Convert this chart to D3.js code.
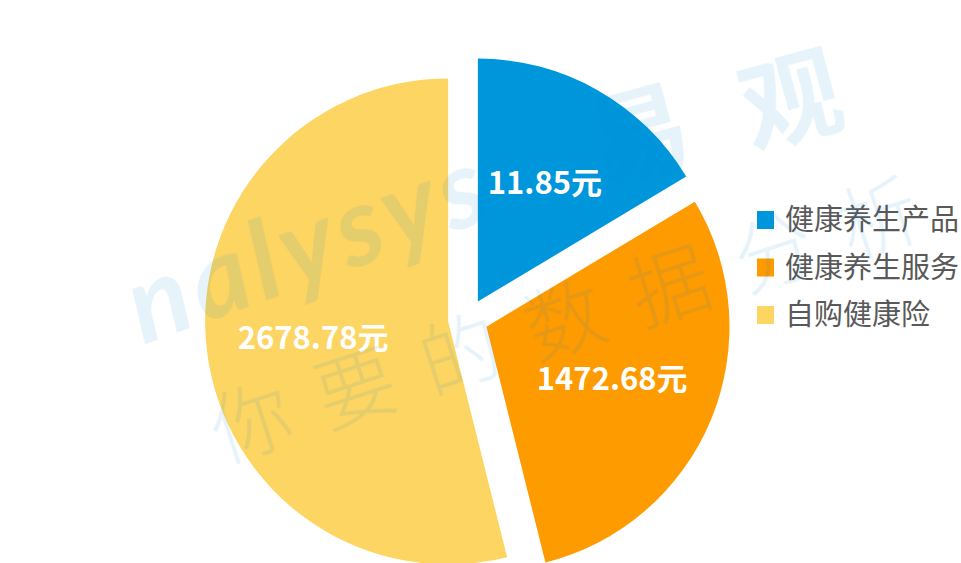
<!DOCTYPE html>
<html>
<head>
<meta charset="utf-8">
<script src="https://cdn.jsdelivr.net/npm/d3@7"></script>
<style>
  body { margin: 0; background: #fff; }
  svg { display: block; font-family: "Noto Sans CJK SC", "Noto Sans", sans-serif; }
  .lbl { fill: #fff; font-weight: bold; font-size: 31px; }
  .legend text { fill: #595959; font-size: 29px; }
</style>
</head>
<body>
<div id="chart"></div>
<script>
// categories and values
var categories = ['健康养生产品', '健康养生服务', '自购健康险'];
var amounts = [11.85, 1472.68, 2678.78];          // printed on the slices (元)
var shares = [16.4, 29.7, 53.9];                   // slice sizes as drawn, % of the pie
var colors = ['#0096dc', '#fe9b00', '#fdd562'];

var width = 961, height = 563;
var cx = 468, cy = 319, radius = 243, explode = 20;

var svg = d3.select('#chart').append('svg')
    .attr('width', width)
    .attr('height', height);

var data = categories.map(function(c, i) {
  return {name: c, amount: amounts[i], share: shares[i], color: colors[i]};
});

var pie = d3.pie()
    .sort(null)
    .value(function(d) { return d.share; });

var arc = d3.arc().innerRadius(0).outerRadius(radius);
var labelArc = d3.arc().innerRadius(radius * 0.56).outerRadius(radius * 0.56);

var arcs = pie(data);

function shift(d) {
  var mid = (d.startAngle + d.endAngle) / 2;
  return [cx + explode * Math.sin(mid), cy - explode * Math.cos(mid)];
}

var slices = svg.selectAll('g.slice')
    .data(arcs)
    .enter()
    .append('g')
    .attr('class', 'slice')
    .attr('transform', function(d) { return 'translate(' + shift(d) + ')'; });

slices.append('path')
    .attr('d', arc)
    .style('fill', function(d) { return d.data.color; });

slices.append('text')
    .attr('class', 'lbl')
    .attr('transform', function(d) { return 'translate(' + labelArc.centroid(d) + ')'; })
    .attr('text-anchor', 'middle')
    .attr('dy', '0.36em')
    .text(function(d) { return d3.format('.2f')(d.data.amount) + '元'; });

// legend
var legend = svg.append('g')
    .attr('class', 'legend')
    .attr('transform', 'translate(757,220)');

var rows = legend.selectAll('g')
    .data(data)
    .enter()
    .append('g')
    .attr('transform', function(d, i) { return 'translate(0,' + i * 47.5 + ')'; });

rows.append('rect')
    .attr('x', 0)
    .attr('y', -9)
    .attr('width', 17)
    .attr('height', 18)
    .style('fill', function(d) { return d.color; });

rows.append('text')
    .attr('x', 28)
    .attr('dy', '0.36em')
    .text(function(d) { return d.name; });

// faint watermark over everything
var wm = svg.append('g')
    .style('pointer-events', 'none')
    .style('fill', '#0080d0')
    .style('opacity', 0.1);

wm.append('text')
    .attr('transform', 'translate(143,345) rotate(-20)')
    .style('font-family', 'Lato, sans-serif')
    .style('font-style', 'italic')
    .style('font-weight', 'bold')
    .style('font-size', '110px')
    .style('letter-spacing', '6px')
    .text('nalysys');

wm.append('text')
    .attr('transform', 'translate(600,182) rotate(-15)')
    .style('font-weight', 'bold')
    .style('font-size', '100px')
    .text('易');

wm.append('text')
    .attr('transform', 'translate(752,148) rotate(-15)')
    .style('font-weight', 'bold')
    .style('font-size', '100px')
    .text('观');

wm.append('text')
    .attr('transform', 'translate(222,462) rotate(-18)')
    .style('font-weight', 300)
    .style('font-size', '80px')
    .style('letter-spacing', '30px')
    .text('你要的数据分析');
</script>
</body>
</html>
